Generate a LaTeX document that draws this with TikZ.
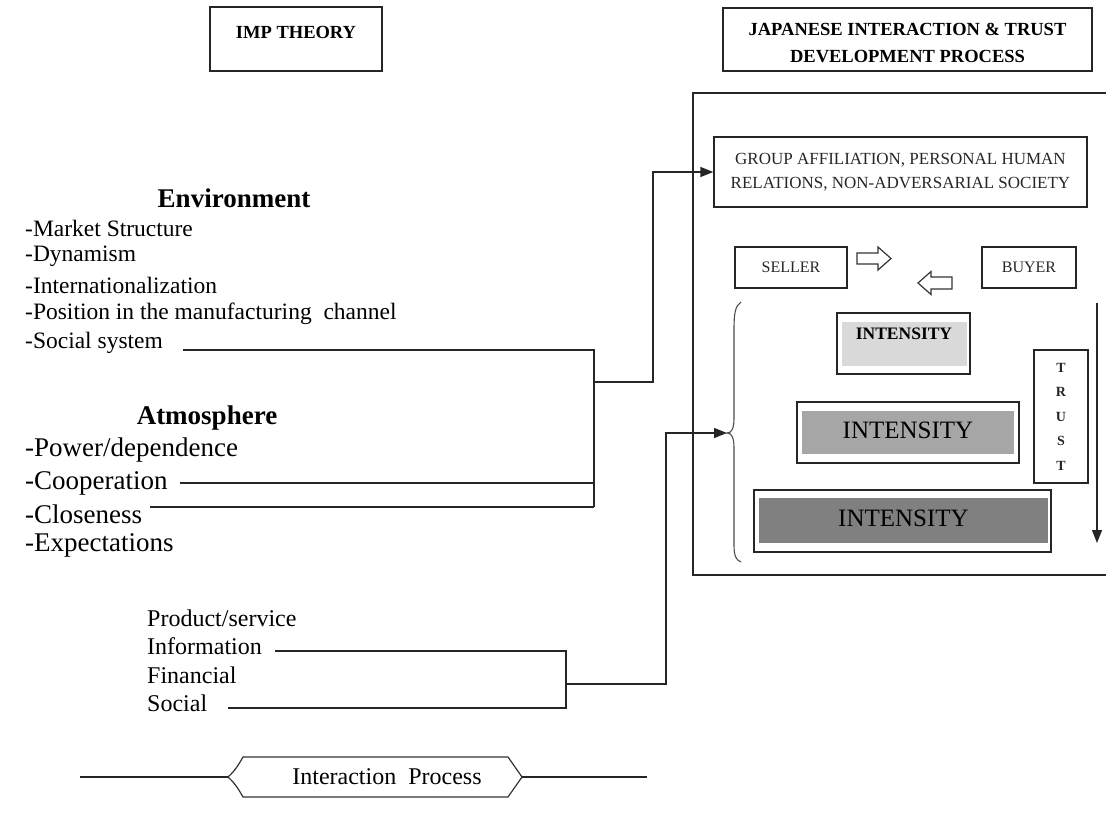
\documentclass[tikz,border=0pt]{standalone}
\usepackage{fontspec}
\setmainfont{Liberation Serif}
\usetikzlibrary{arrows.meta}
\definecolor{g1}{HTML}{D9D9D9}
\definecolor{g2}{HTML}{A6A6A6}
\definecolor{g3}{HTML}{808080}
\begin{document}
\begin{tikzpicture}[x=1pt,y=-1pt,
  line/.style={line width=1.4pt, black!85},
  arr/.style={line width=1.4pt, black!85, -{Triangle[length=13pt,width=10pt]}},
  box/.style={draw, line width=1.4pt, black!85, inner sep=0pt},
  txt/.style={inner sep=0pt, anchor=west, font=\fontsize{23.5}{26}\selectfont},
  atx/.style={inner sep=0pt, anchor=west, font=\fontsize{27}{30}\selectfont},
  btx/.style={inner sep=0pt, anchor=west, font=\fontsize{24}{26}\selectfont},
  head/.style={inner sep=0pt, font=\fontsize{27}{30}\selectfont\bfseries},
  ttl/.style={inner sep=0pt, align=center, font=\fontsize{18.5}{27}\selectfont\bfseries},
  inten/.style={inner sep=0pt, fill=#1}
]
\useasboundingbox (0,0) rectangle (1106,825);

% title boxes
\node[box, minimum width=172, minimum height=64] (imp) at (296,39) {};
\node[ttl] (impt) at (296,32) {IMP THEORY};
\node[box, minimum width=369, minimum height=63] (jap) at (907.5,39.5) {};
\node[ttl] (japt) at (907.5,43) {JAPANESE INTERACTION \& TRUST\\DEVELOPMENT PROCESS};

% big frame
\draw[line] (1106,93) -- (693,93) -- (693,575) -- (1106,575);

% group box
\node[box, minimum width=373, minimum height=70, align=center,
      font=\fontsize{17}{24}\selectfont] (grp) at (900.5,172)
  {GROUP AFFILIATION, PERSONAL HUMAN\\RELATIONS, NON-ADVERSARIAL SOCIETY};

% seller / buyer
\node[box, minimum width=112, minimum height=41, font=\fontsize{16}{18}\selectfont] (sel) at (791,267.5) {SELLER};
\node[box, minimum width=94, minimum height=41, font=\fontsize{16}{18}\selectfont] (buy) at (1029,267.5) {BUYER};
\draw[line width=1.2pt, black!80, line join=miter]
  (857,253) -- (878,253) -- (878,247) -- (891,258.5) -- (878,270) -- (878,264) -- (857,264) -- cycle;
\draw[line width=1.2pt, black!80, line join=miter]
  (952,277) -- (931,277) -- (931,271.5) -- (918,283) -- (931,294.5) -- (931,289) -- (952,289) -- cycle;

% brace
\coordinate (brtip) at (727,433);
\draw[line width=1.1pt, black!70]
  (741,302) .. controls (735,306) and (734,314) .. (734,330) -- (734,418)
  .. controls (734,428) and (732,433) .. (brtip)
  .. controls (732,433) and (734,438) .. (734,448) -- (734,545)
  .. controls (734,556) and (736,560) .. (741,562);

% intensity boxes
\node[box, minimum width=133, minimum height=61] (i1) at (903.5,343.5) {};
\node[inten=g1, minimum width=125, minimum height=44] (i1f) at (904.5,344) {};
\node[inner sep=0pt, font=\fontsize{17.5}{20}\selectfont\bfseries] (i1t) at (904,334) {INTENSITY};

\node[box, minimum width=222, minimum height=61] (i2) at (908,432.5) {};
\node[inten=g2, minimum width=212, minimum height=43] (i2f) at (908,432.5) {};
\node[inner sep=0pt, font=\fontsize{25}{28}\selectfont] (i2t) at (908,430) {INTENSITY};

\node[box, minimum width=297, minimum height=62] (i3) at (902.5,521) {};
\node[inten=g3, minimum width=289, minimum height=45] (i3f) at (903.5,520.5) {};
\node[inner sep=0pt, font=\fontsize{25}{28}\selectfont] (i3t) at (903.5,518) {INTENSITY};

% trust
\node[box, minimum width=54, minimum height=133, align=center,
      font=\fontsize{14}{24.5}\selectfont\bfseries] (tr) at (1061,416.5) {T\\R\\U\\S\\T};
\coordinate (trA) at (1097,303);
\coordinate (trB) at (1097,543);
\draw[arr] (trA) -- (trB);

% environment
\node[head] (env) at (234,198) {Environment};
\node[txt] (e1) at (25,228) {-Market Structure};
\node[txt] (e2) at (25,256) {-Dynamism};
\node[txt] (e3) at (25,285) {-Internationalization};
\node[txt] (e4) at (25,314) {-Position in the manufacturing\ \ channel};
\node[txt] (e5) at (25,343) {-Social system};

% atmosphere
\node[head] (atm) at (207,418) {Atmosphere};
\node[atx] (a1) at (25,450) {-Power/dependence};
\node[atx] (a2) at (25,483) {-Cooperation};
\node[atx] (a3) at (25,514) {-Closeness};
\node[atx] (a4) at (25,545) {-Expectations};

% connectors left-top
\coordinate (s1) at (183,350);
\coordinate (j1) at (594,350);
\coordinate (c1) at (180,483);
\coordinate (j2) at (594,483);
\coordinate (c2) at (150,507);
\coordinate (j3) at (594,507);
\coordinate (m1) at (594,382);
\coordinate (k1) at (653,382);
\draw[line] (s1) -- (j1) -- (j3);
\draw[line] (c1) -- (j2);
\draw[line] (c2) -- (j3);
\draw[arr] (m1) -- (k1) |- (grp.west);

% exchange items
\node[btx] (b1) at (147,618) {Product/service};
\node[btx] (b2) at (147,646) {Information};
\node[btx] (b3) at (147,675) {Financial};
\node[btx] (b4) at (147,703) {Social};
\coordinate (f1) at (275,651);
\coordinate (g1p) at (566,651);
\coordinate (f2) at (228,708);
\coordinate (g2p) at (566,708);
\coordinate (m2) at (566,684);
\coordinate (k2) at (666,684);
\draw[line] (f1) -- (g1p) -- (g2p) -- (f2);
\draw[arr] (m2) -- (k2) |- (brtip);

% interaction process
\node[inner sep=0pt, font=\fontsize{24}{26}\selectfont] (ip) at (387,777) {Interaction\ \ Process};
\coordinate (ipL) at (228,777);
\coordinate (ipR) at (522,777);
\coordinate (lnL) at (80,777);
\coordinate (lnR) at (647,777);
\draw[line width=1.2pt, black!80]
  (ipL) .. controls (236,770) and (240,762) .. (243,757) -- (508,757) -- (ipR)
  -- (508,797) -- (243,797) .. controls (240,792) and (236,784) .. (ipL);
\draw[line] (lnL) -- (ipL);
\draw[line] (ipR) -- (lnR);
\end{tikzpicture}
\end{document}
